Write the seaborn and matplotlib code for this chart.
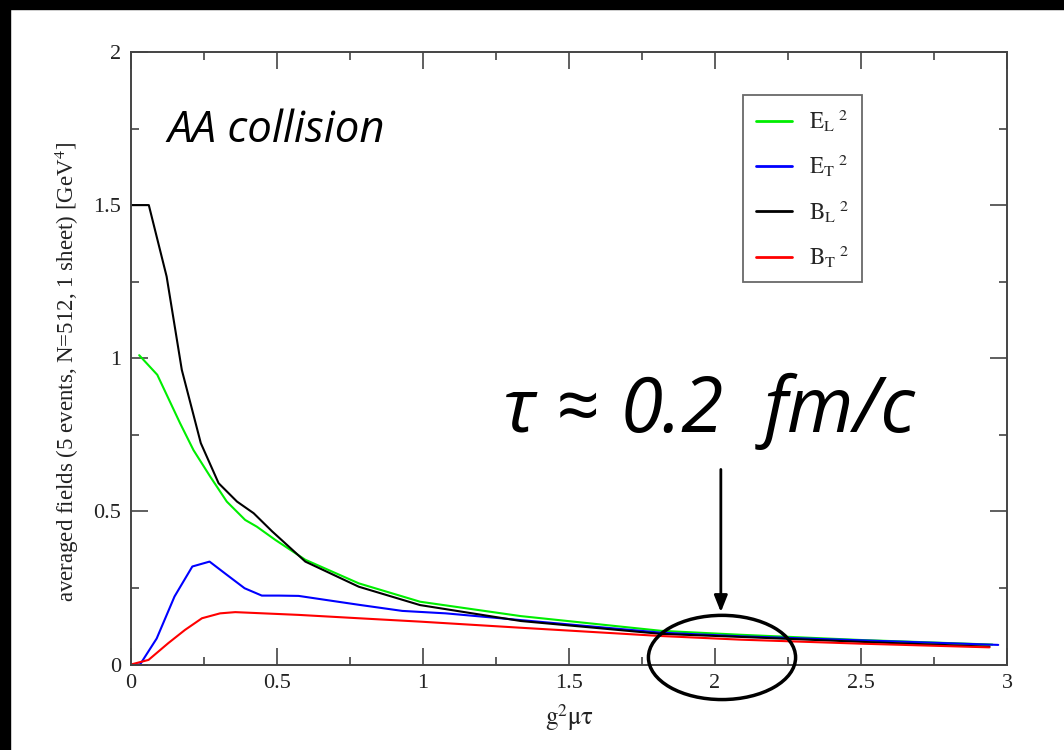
import numpy as np
import pandas as pd
import matplotlib
matplotlib.use("Agg")
import matplotlib.pyplot as plt
from matplotlib.patches import Ellipse, Rectangle
import seaborn as sns

# ---- data ----
x_EL = [0.028, 0.09, 0.168, 0.214, 0.271, 0.328, 0.391, 0.431, 0.494, 0.597, 0.78, 0.99, 1.335, 1.815, 2.09, 2.5, 2.95]
y_EL = [1.01, 0.946, 0.788, 0.70, 0.614, 0.532, 0.472, 0.45, 0.407, 0.342, 0.265, 0.205, 0.158, 0.11, 0.097, 0.08, 0.065]

x_ET = [0.0, 0.031, 0.088, 0.149, 0.21, 0.269, 0.328, 0.389, 0.448, 0.506, 0.574, 0.666, 0.78, 0.929, 1.078, 1.335, 1.815, 2.09, 2.5, 2.97]
y_ET = [0.0, 0.0, 0.085, 0.222, 0.32, 0.336, 0.293, 0.249, 0.225, 0.225, 0.224, 0.211, 0.195, 0.175, 0.167, 0.145, 0.104, 0.092, 0.079, 0.064]

x_BL = [0.0, 0.061, 0.122, 0.174, 0.239, 0.30, 0.363, 0.42, 0.483, 0.597, 0.78, 0.99, 1.335, 1.815, 2.09, 2.5, 2.94]
y_BL = [1.5, 1.5, 1.267, 0.962, 0.723, 0.592, 0.532, 0.494, 0.435, 0.336, 0.254, 0.194, 0.142, 0.10, 0.09, 0.074, 0.058]

x_BT = [0.0, 0.06, 0.128, 0.185, 0.243, 0.305, 0.357, 0.574, 0.78, 0.99, 1.335, 1.815, 2.09, 2.5, 2.94]
y_BT = [0.0, 0.015, 0.07, 0.113, 0.151, 0.167, 0.171, 0.162, 0.151, 0.14, 0.12, 0.093, 0.081, 0.068, 0.056]

series_labels = [r"$\mathrm{E_L}^{\ 2}$", r"$\mathrm{E_T}^{\ 2}$", r"$\mathrm{B_L}^{\ 2}$", r"$\mathrm{B_T}^{\ 2}$"]
series_colors = ["#00ee00", "#0000ff", "#000000", "#ff0000"]

x_ticks = [0, 0.5, 1, 1.5, 2, 2.5, 3]
x_ticklabels = ["0", "0.5", "1", "1.5", "2", "2.5", "3"]
y_ticks = [0, 0.5, 1, 1.5, 2]
y_ticklabels = ["0", "0.5", "1", "1.5", "2"]

# ---- style ----
sns.set_style("ticks")
plt.rcParams["font.family"] = ["Liberation Serif", "DejaVu Serif"]
plt.rcParams["mathtext.fontset"] = "stix"

fig = plt.figure(figsize=(10.64, 7.5), dpi=100)
fig.patch.set_facecolor("white")
# slide border (black strips top and left)
fig.patches.append(Rectangle((0, 1 - 9 / 750), 1, 9 / 750, transform=fig.transFigure, color="black", zorder=0))
fig.patches.append(Rectangle((0, 0), 10 / 1064, 1, transform=fig.transFigure, color="black", zorder=0))

ax = fig.add_axes([131 / 1064, 1 - 664.5 / 750, 876 / 1064, 612.5 / 750])

frames = []
for xs, ys, lab in zip([x_EL, x_ET, x_BL, x_BT], [y_EL, y_ET, y_BL, y_BT], series_labels):
    frames.append(pd.DataFrame({"x": xs, "y": ys, "series": lab}))
df = pd.concat(frames, ignore_index=True)

sns.lineplot(data=df, x="x", y="y", hue="series", palette=dict(zip(series_labels, series_colors)),
             sort=False, estimator=None, linewidth=1.5, ax=ax, legend=True)

ax.set_xlim(0, 3)
ax.set_ylim(0, 2)
ax.set_xticks(x_ticks)
ax.set_xticklabels(x_ticklabels)
ax.set_yticks(y_ticks)
ax.set_yticklabels(y_ticklabels)
ax.set_xticks(np.arange(0.25, 3, 0.5), minor=True)
ax.set_yticks(np.arange(0.25, 2, 0.5), minor=True)
ax.tick_params(which="both", direction="in", top=True, right=True, colors="#444444",
               labelcolor="#222222", labelsize=16, width=1.2)
ax.tick_params(which="major", length=12, pad=7)
ax.tick_params(which="minor", length=6)
for s in ax.spines.values():
    s.set_color("#444444")
    s.set_linewidth(1.4)

ax.set_xlabel(r"$\mathrm{g}^{2}\mathrm{\mu\tau}$", fontsize=18, color="#222222")
ax.xaxis.set_label_coords(0.5, -0.062)
ax.set_ylabel(r"averaged fields (5 events, N=512, 1 sheet) [GeV$^{4}$]", fontsize=16.5, color="#222222")
ax.yaxis.set_label_coords(-0.057, 0.478)

leg = ax.legend(loc="upper left", bbox_to_anchor=(0.699, 0.93), borderaxespad=0, frameon=True, fancybox=False,
                fontsize=16.5, handlelength=1.57, labelspacing=0.82, borderpad=0.55, handletextpad=0.75)
leg.get_frame().set_edgecolor("#444444")
leg.get_frame().set_linewidth(1.3)
for h in leg.get_lines():
    h.set_linewidth(2)

# annotations
ann_font = ["Open Sans", "DejaVu Sans"]
fig.text(167 / 1064, 1 - 141.7 / 750, "AA collision", fontsize=31.5, style="italic",
         family=ann_font, color="black", va="baseline", ha="left")
for txt, xpx in [("\u03c4", 503), ("\u2248", 556), ("0.2", 621), ("fm/c", 764)]:
    fig.text(xpx / 1064, 1 - 431.7 / 750, txt, fontsize=55, style="italic",
             family=ann_font, color="black", va="baseline", ha="left")

ax.annotate("", xy=(2.02, 0.162), xytext=(2.02, 0.646),
            arrowprops=dict(arrowstyle="-|>,head_length=1.0,head_width=0.4", color="black", lw=2),
            annotation_clip=False)
ax.add_patch(Ellipse((2.024, 0.023), 0.504, 0.275, fill=False, edgecolor="black", lw=2.5, clip_on=False, zorder=5))

fig.savefig("out.png", dpi=100, facecolor="white")
